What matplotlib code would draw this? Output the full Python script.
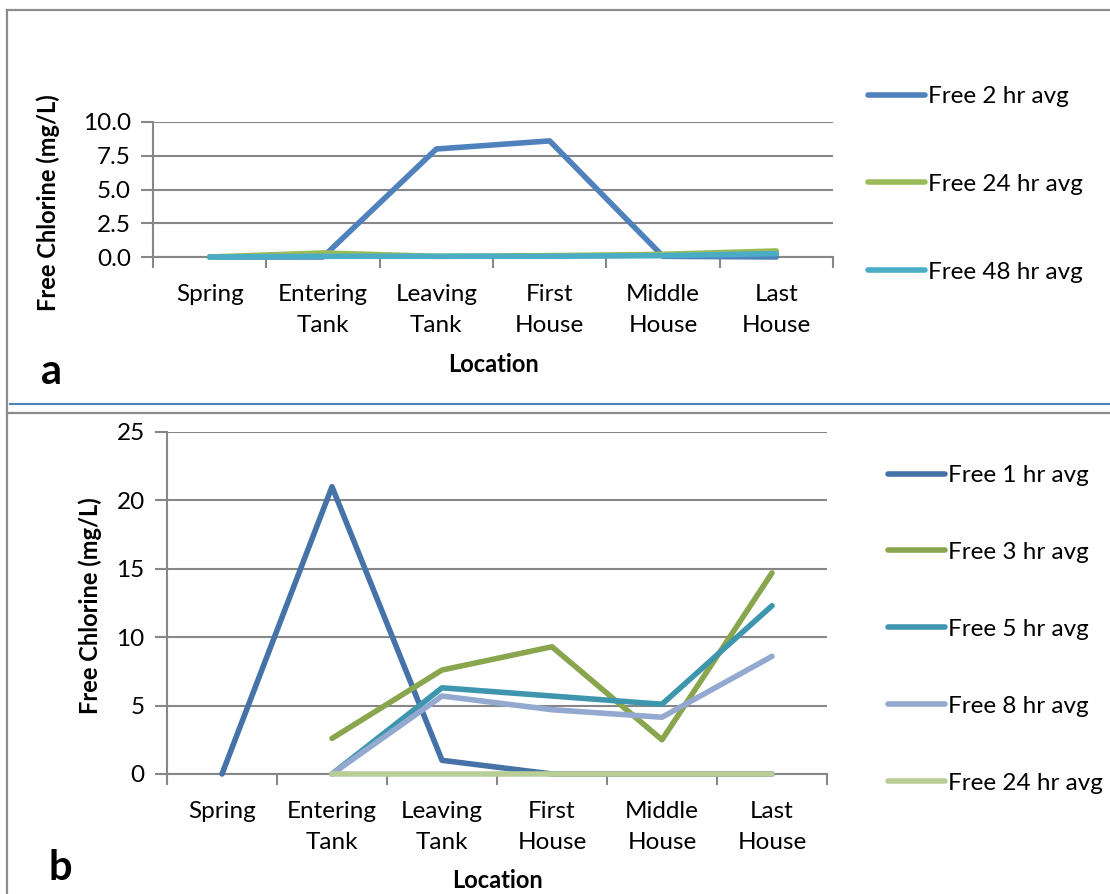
import matplotlib
matplotlib.use('Agg')
import matplotlib.pyplot as plt
from matplotlib.lines import Line2D
import numpy as np

nan = np.nan

locations = ['Spring', 'Entering\nTank', 'Leaving\nTank', 'First\nHouse', 'Middle\nHouse', 'Last\nHouse']

# panel a
free_2hr = [0.0, 0.0, 8.0, 8.6, 0.05, 0.0]
free_24hr_a = [0.0, 0.3, 0.05, 0.1, 0.2, 0.45]
free_48hr = [0.0, 0.05, 0.05, 0.05, 0.1, 0.25]

# panel b
free_1hr = [0.0, 21.0, 1.0, 0.0, 0.0, 0.0]
free_3hr = [nan, 2.6, 7.6, 9.3, 2.5, 14.7]
free_5hr = [nan, 0.0, 6.3, 5.7, 5.1, 12.3]
free_8hr = [nan, 0.0, 5.7, 4.7, 4.15, 8.6]
free_24hr_b = [nan, 0.0, 0.0, 0.0, 0.0, 0.0]

plt.rcParams['font.family'] = ['Lato', 'DejaVu Sans']
GRID = '#878787'
FS = 17.5
LFS = 17

W, H = 1110, 894
fig = plt.figure(figsize=(W / 100, H / 100), dpi=100)


def px_box(left, top, right, bottom):
    return [left / W, 1 - bottom / H, (right - left) / W, (bottom - top) / H]


def style_axes(ax, ymax, yticks, fmt):
    x = np.arange(1, len(locations) + 1)
    ax.set_xlim(0.5, len(locations) + 0.5)
    ax.set_ylim(0, ymax)
    ax.set_xticks(x)
    ax.set_xticklabels(locations, fontsize=FS, linespacing=1.6)
    ax.set_xticks(np.arange(0.5, len(locations) + 1), minor=True)
    ax.tick_params(axis='x', which='major', length=0, pad=19.5)
    ax.tick_params(axis='x', which='minor', length=8, width=1.5, color=GRID, direction='out')
    ax.set_yticks(yticks)
    ax.set_yticklabels([fmt.format(v) for v in yticks], fontsize=FS)
    ax.tick_params(axis='y', length=9, width=1.5, color=GRID, direction='out', pad=7)
    for side in ['top', 'right']:
        ax.spines[side].set_visible(False)
    for side in ['left', 'bottom']:
        ax.spines[side].set_color(GRID)
        ax.spines[side].set_linewidth(1.5)
    ax.grid(axis='y', color=GRID, linewidth=1.5)
    ax.set_axisbelow(True)
    return x


def draw(ax, x, y, color, label):
    ax.plot(x, y, color=color, lw=4, label=label, solid_capstyle='round', clip_on=False, zorder=3)


legend_kw = dict(bbox_transform=fig.transFigure, loc='upper left', frameon=False, fontsize=FS,
                 handlelength=2.35, handletextpad=0.1, borderpad=0, borderaxespad=0)

# ---- panel a ----
ax1 = fig.add_axes(px_box(153, 122, 833, 257))
x = style_axes(ax1, 10, [0, 2.5, 5.0, 7.5, 10.0], '{:.1f}')
draw(ax1, x, free_2hr, '#4F81BD', 'Free 2 hr avg')
draw(ax1, x, free_24hr_a, '#9BBB59', 'Free 24 hr avg')
draw(ax1, x, free_48hr, '#4BACC6', 'Free 48 hr avg')
ax1.legend(bbox_to_anchor=(868 / W, 1 - 86 / H), labelspacing=2.75, **legend_kw)
fig.text(48 / W, 1 - 203 / H, 'Free Chlorine (mg/L)', rotation=90, ha='center', va='center',
         fontsize=LFS, fontweight='bold')
fig.text(493 / W, 1 - 365 / H, 'Location', ha='center', va='center', fontsize=LFS, fontweight='bold')
fig.text(52 / W, 1 - 372 / H, 'a', ha='center', va='center', fontsize=30, fontweight='bold')

# ---- panel b ----
ax2 = fig.add_axes(px_box(167, 432, 827, 774))
x = style_axes(ax2, 25, [0, 5, 10, 15, 20, 25], '{:.0f}')
draw(ax2, x, free_1hr, '#4572A7', 'Free 1 hr avg')
draw(ax2, x, free_3hr, '#89A54E', 'Free 3 hr avg')
draw(ax2, x, free_5hr, '#3D96AE', 'Free 5 hr avg')
draw(ax2, x, free_8hr, '#93A9CF', 'Free 8 hr avg')
draw(ax2, x, free_24hr_b, '#B9CD96', 'Free 24 hr avg')
ax2.legend(bbox_to_anchor=(888 / W, 1 - 465 / H), labelspacing=2.3, **legend_kw)
fig.text(90 / W, 1 - 606 / H, 'Free Chlorine (mg/L)', rotation=90, ha='center', va='center',
         fontsize=LFS, fontweight='bold')
fig.text(497 / W, 1 - 881 / H, 'Location', ha='center', va='center', fontsize=LFS, fontweight='bold')
fig.text(60 / W, 1 - 868 / H, 'b', ha='center', va='center', fontsize=30, fontweight='bold')

# panel frames and divider
frame = dict(color='#8C8C8C', lw=1.6, transform=fig.transFigure)
fig.add_artist(Line2D([7 / W, 7 / W], [0, 1 - 10 / H], **frame))
fig.add_artist(Line2D([7 / W, 1], [1 - 10 / H, 1 - 10 / H], **frame))
fig.add_artist(Line2D([7 / W, 1], [1 - 413 / H, 1 - 413 / H], **frame))
fig.add_artist(Line2D([10 / W, 1], [1 - 404 / H, 1 - 404 / H], color='#4F81BD', lw=1.5,
                      transform=fig.transFigure))

fig.savefig('out.png', dpi=100)
